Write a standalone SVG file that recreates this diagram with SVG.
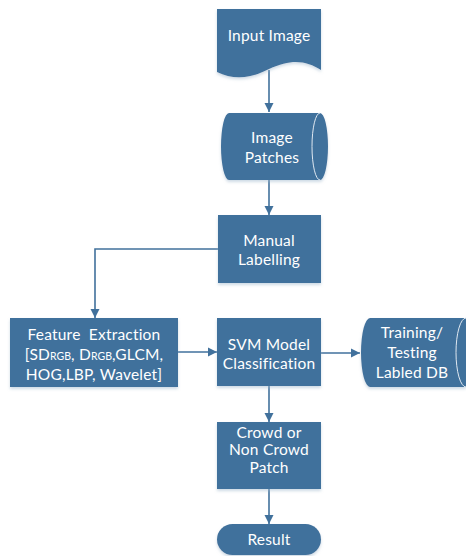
<svg xmlns="http://www.w3.org/2000/svg" width="466" height="556" viewBox="0 0 466 556">
  <style>
    .shape { fill: #41719c; filter: url(#soft); }
    .edge { fill: none; stroke: #41719c; stroke-width: 1.6; marker-end: url(#arrow); }
    .inner { fill: none; stroke: #dfe8f1; stroke-width: 1; }
    text { font-family: Lato, "Open Sans", "Liberation Sans", sans-serif; font-size: 15.5px; letter-spacing: 0.2px; fill: #ffffff; text-anchor: middle; }
    .sub { font-size: 10.5px; letter-spacing: 0; }
  </style>
  <defs>
    <marker id="arrow" markerWidth="10" markerHeight="10" refX="9" refY="5" orient="auto" markerUnits="userSpaceOnUse">
      <path d="M0,0.5 L9,5 L0,9.5 Z" fill="#41719c"/>
    </marker>
    <filter id="soft" x="-10%" y="-10%" width="120%" height="130%">
      <feDropShadow dx="0" dy="2" stdDeviation="1.5" flood-color="#9fb6cc" flood-opacity="0.5"/>
    </filter>
  </defs>
  <rect width="466" height="556" fill="#ffffff"/>

  <!-- connectors -->
  <g id="connectors">
    <path class="edge" d="M269,70 V112"/>
    <path class="edge" d="M269,180 V215"/>
    <path class="edge" d="M218,249 H95 V318"/>
    <path class="edge" d="M178,352 H217"/>
    <path class="edge" d="M321,353 H360"/>
    <path class="edge" d="M269,386 V422"/>
    <path class="edge" d="M269,489 V524"/>
  </g>

  <!-- document -->
  <g id="input-image">
    <path class="shape" d="M217,9 H321 V70 C307,61 292,58 269,69 C250,79 233,80 217,72 Z"/>
    <text x="269" y="41">Input Image</text>
  </g>

  <!-- horizontal cylinder -->
  <g id="image-patches">
    <path class="shape" d="M229,113 H320 A8,33.5 0 0 1 320,180 H229 A8,33.5 0 0 1 229,113 Z"/>
    <path class="inner" d="M320,113 A8,33.5 0 0 0 320,180"/>
    <text x="272" y="143">Image</text>
    <text x="272" y="163">Patches</text>
  </g>

  <g id="manual-labelling">
    <rect class="shape" x="218" y="215" width="103" height="68"/>
    <text x="269" y="246">Manual</text>
    <text x="269" y="265">Labelling</text>
  </g>

  <g id="feature-extraction">
    <rect class="shape" x="10" y="318" width="168" height="69"/>
    <text x="94" y="340" xml:space="preserve">Feature  Extraction</text>
    <text x="94" y="360">[SD<tspan class="sub">RGB</tspan>, D<tspan class="sub">RGB</tspan>,GLCM,</text>
    <text x="94" y="380">HOG,LBP, Wavelet]</text>
  </g>

  <g id="svm-model">
    <rect class="shape" x="217" y="318" width="104" height="68"/>
    <text x="269" y="350">SVM Model</text>
    <text x="269" y="369">Classification</text>
  </g>

  <g id="training-db">
    <path class="shape" d="M370,318 H466 V387 H370 A9,34.5 0 0 1 370,318 Z"/>
    <path class="inner" d="M466,318 A10,34.5 0 0 0 466,387"/>
    <text x="412" y="338">Training/</text>
    <text x="412" y="358">Testing</text>
    <text x="412" y="378">Labled DB</text>
  </g>

  <g id="crowd-patch">
    <rect class="shape" x="217" y="422" width="104" height="67"/>
    <text x="269" y="438">Crowd or</text>
    <text x="269" y="455">Non Crowd</text>
    <text x="269" y="473">Patch</text>
  </g>

  <!-- terminator -->
  <g id="result">
    <rect class="shape" x="217" y="524" width="104" height="31" rx="15.5"/>
    <text x="269" y="545">Result</text>
  </g>
</svg>
